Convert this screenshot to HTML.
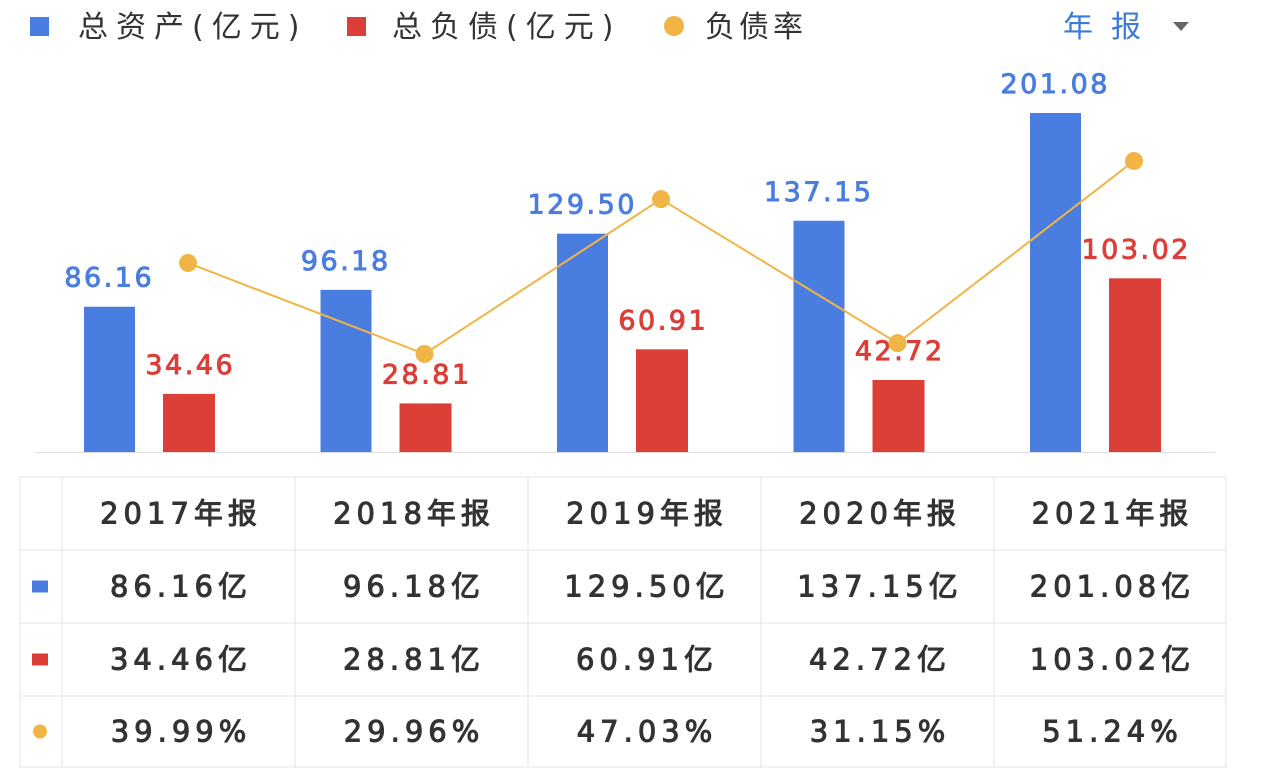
<!DOCTYPE html>
<html><head><meta charset="utf-8"><style>
body{margin:0;width:1268px;height:777px;background:#fff;overflow:hidden;font-family:"DejaVu Sans","Noto Sans CJK SC",sans-serif;}
svg{position:absolute;left:0;top:0}
</style></head><body>
<svg id="chart" width="1268" height="777">
  <g>
    <g><rect x="30" y="17" width="19" height="19" fill="#4a7de0"/><text x="78" y="37" font-size="30" fill="#333" letter-spacing="8">总资产(亿元)</text></g>
    <g><rect x="347" y="17" width="19" height="19" fill="#db3f38"/><text x="392" y="37" font-size="30" fill="#333" letter-spacing="8">总负债(亿元)</text></g>
    <g><circle cx="674" cy="26" r="10" fill="#f0b545"/><text x="705" y="37" font-size="30" fill="#333" letter-spacing="4">负债率</text></g>
  </g>
  <g><text x="1063" y="37" font-size="30" fill="#3c7bd6" letter-spacing="18">年报</text><path d="M1173 22 L1189 22 L1181 31 Z" fill="#666"/></g>
  <line x1="35" y1="452.5" x2="1215" y2="452.5" stroke="#ddd" stroke-width="1"/>
  <g id="marks"></g>
  <g id="table"></g>
</svg>
<script>
const categories=["2017年报","2018年报","2019年报","2020年报","2021年报"];
const assets=[86.16,96.18,129.50,137.15,201.08];
const liabilities=[34.46,28.81,60.91,42.72,103.02];
const ratio=[39.99,29.96,47.03,31.15,51.24];
const NS="http://www.w3.org/2000/svg";
const g=document.getElementById('marks');
function mk(tag,attrs,parent){const e=document.createElementNS(NS,tag);for(const k in attrs)e.setAttribute(k,attrs[k]);(parent||g).appendChild(e);return e;}
const base=452, k=1.686;
const yBar=v=>base-v*k;
const yLine=v=>625.7-v*9.07;
const groupX=i=>149+i*236.5;
const blue="#4a7de0",red="#db3f38",orange="#f0b545";
const LS=2.5;
const pts=[];
categories.forEach((c,i)=>{
  const cx=groupX(i);
  let b=mk('rect',{x:cx-65,y:yBar(assets[i]),width:51,height:assets[i]*k,fill:blue});
  
  
  let r=mk('rect',{x:cx+14,y:yBar(liabilities[i]),width:52,height:liabilities[i]*k,fill:red});
  
  
  let t1=mk('text',{x:cx-41+LS/2,y:yBar(assets[i])-20,'font-size':27,'text-anchor':'middle',fill:blue,stroke:blue,'stroke-width':0.9,'letter-spacing':LS});
  t1.textContent=assets[i].toFixed(2);
  
  
  let t2=mk('text',{x:cx+40+LS/2,y:yBar(liabilities[i])-20,'font-size':27,'text-anchor':'middle',fill:red,stroke:red,'stroke-width':0.9,'letter-spacing':LS});
  t2.textContent=liabilities[i].toFixed(2);
  
  
  pts.push([cx+39,yLine(ratio[i])]);
});
let pl=mk('polyline',{points:pts.map(p=>p.join(',')).join(' '),fill:'none',stroke:orange,'stroke-width':2});


pts.forEach((p,i)=>{let c=mk('circle',{cx:p[0],cy:p[1],r:9,fill:orange});
  
  });
// table
const tb=document.getElementById('table');
const colX=[20,62,295,528,761,994,1226], rowY=[477,550,623,696,767];
const ln=(x1,y1,x2,y2)=>mk('line',{x1,y1,x2,y2,stroke:'#e3e3e3','stroke-width':1},tb);
colX.forEach(x=>ln(x,477,x,767));
rowY.forEach(y=>ln(20,y,1226,y));
const rows=[categories,assets.map(v=>v.toFixed(2)+'亿'),liabilities.map(v=>v.toFixed(2)+'亿'),ratio.map(v=>v.toFixed(2)+'%')];
const TS=5;
rows.forEach((row,ri)=>{
  const cy=(rowY[ri]+rowY[ri+1])/2+10;
  row.forEach((v,ci)=>{
    let t=mk('text',{x:(colX[ci+1]+colX[ci+2])/2+TS/2,y:cy,'font-size':29,'text-anchor':'middle',fill:'#333',stroke:'#333','stroke-width':1,'letter-spacing':TS},tb);
    t.textContent=v;
    
    
  });
});
const icy=r=>(rowY[r]+rowY[r+1])/2;
let s1=mk('rect',{x:32,y:icy(1)-6,width:16,height:12,fill:blue},tb);

let s2=mk('rect',{x:32,y:icy(2)-6,width:16,height:12,fill:red},tb);

let s3=mk('circle',{cx:40,cy:icy(3),r:7,fill:orange},tb);

</script>
</body></html>
